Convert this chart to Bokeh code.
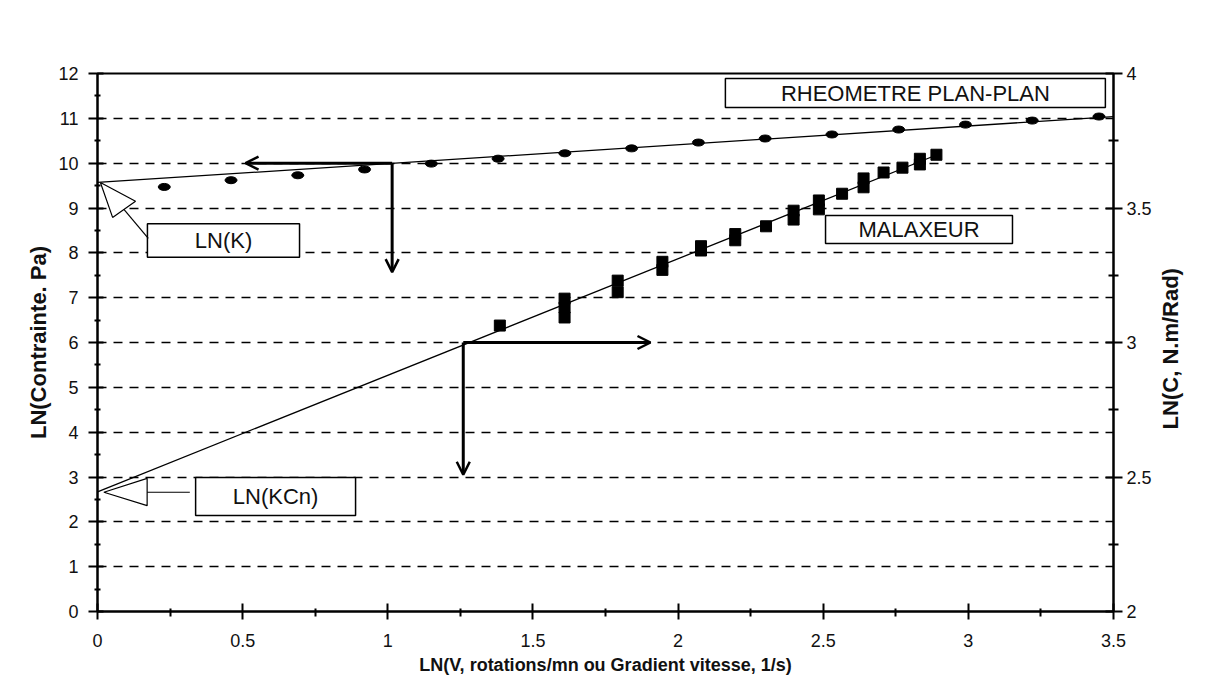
import math
from bokeh.plotting import figure
from bokeh.models import Range1d, LinearAxis, FixedTicker, Arrow, OpenHead
from bokeh.core.properties import value
from bokeh.embed import file_html
from bokeh.resources import INLINE

# ---------------- data ----------------
# RHEOMETRE PLAN-PLAN (left axis: LN(Contrainte, Pa))
x_rheo = [0.23, 0.46, 0.69, 0.92, 1.15, 1.38, 1.61, 1.84, 2.07, 2.30, 2.53, 2.76, 2.99, 3.22, 3.45]
y_rheo = [9.47, 9.62, 9.73, 9.86, 9.99, 10.10, 10.22, 10.33, 10.46, 10.55, 10.64, 10.75, 10.86, 10.95, 11.04]
x_fit_rheo = [0.0, 3.5]
y_fit_rheo = [9.57, 11.04]

# MALAXEUR (right axis: LN(C, N.m/Rad))
x_mal = [1.386, 1.609, 1.609, 1.609, 1.792, 1.792, 1.946, 1.946, 2.079, 2.079,
         2.197, 2.197, 2.303, 2.398, 2.398, 2.485, 2.485, 2.565, 2.639, 2.639,
         2.708, 2.773, 2.833, 2.833, 2.890]
c_mal = [3.063, 3.163, 3.130, 3.093, 3.230, 3.187, 3.300, 3.270, 3.358, 3.342,
         3.403, 3.380, 3.432, 3.490, 3.457, 3.528, 3.495, 3.553, 3.610, 3.577,
         3.632, 3.650, 3.683, 3.662, 3.698]
x_fit_mal = [0.0, 2.89]
c_fit_mal = [2.445, 3.697]

# ticks
x_ticks = [0, 0.5, 1, 1.5, 2, 2.5, 3, 3.5]
x_tick_labels = ["0", "0.5", "1", "1.5", "2", "2.5", "3", "3.5"]
x_minor = [0.25, 0.75, 1.25, 1.75, 2.25, 2.75, 3.25]
y_ticks = [0, 1, 2, 3, 4, 5, 6, 7, 8, 9, 10, 11, 12]
y_tick_labels = ["0", "1", "2", "3", "4", "5", "6", "7", "8", "9", "10", "11", "12"]
y_minor = [0.5, 1.5, 2.5, 3.5, 4.5, 5.5, 6.5, 7.5, 8.5, 9.5, 10.5, 11.5]
r_ticks = [2, 2.5, 3, 3.5, 4]
r_tick_labels = ["2", "2.5", "3", "3.5", "4"]
r_minor = [2.25, 2.75, 3.25, 3.75]

box_texts = ["RHEOMETRE PLAN-PLAN", "MALAXEUR", "LN(K)", "LN(KCn)"]

x_title = "LN(V, rotations/mn ou Gradient vitesse, 1/s)"
y_title = "LN(Contrainte. Pa)"
r_title = "LN(C, N.m/Rad)"

FONT = "Liberation Sans"
INK = "#111111"

# ---------------- figure ----------------
p = figure(width=1213, height=694, x_range=Range1d(0, 3.5), y_range=Range1d(0, 12),
           output_backend="svg", toolbar_location=None,
           min_border_left=97, min_border_right=100, min_border_top=73, min_border_bottom=83)
p.background_fill_color = "white"
p.border_fill_color = "white"
p.outline_line_color = "black"
p.outline_line_width = 2
p.extra_y_ranges = {"right": Range1d(2, 4)}


def style_axis(ax, tick_in, tick_out, minor_in, minor_out, standoff):
    ax.axis_line_color = "black"
    ax.axis_line_width = 2
    ax.major_tick_line_color = "black"
    ax.major_tick_line_width = 2
    ax.minor_tick_line_color = "black"
    ax.minor_tick_line_width = 2
    ax.major_tick_in = tick_in
    ax.major_tick_out = tick_out
    ax.minor_tick_in = minor_in
    ax.minor_tick_out = minor_out
    ax.major_label_standoff = standoff
    ax.major_label_text_font = FONT
    ax.major_label_text_font_size = "18px"
    ax.major_label_text_color = INK
    ax.axis_label_text_font = FONT
    ax.axis_label_text_font_style = "bold"
    ax.axis_label_text_color = INK


xa = p.xaxis[0]
xa.ticker = FixedTicker(ticks=x_ticks, minor_ticks=x_minor)
xa.major_label_overrides = dict(zip(x_ticks, x_tick_labels))
style_axis(xa, 8, 8, 3, 5, 14)
xa.axis_label = x_title
xa.axis_label_text_font_size = "18px"
xa.axis_label_standoff = 5

ya = p.yaxis[0]
ya.ticker = FixedTicker(ticks=y_ticks, minor_ticks=y_minor)
ya.major_label_overrides = dict(zip(y_ticks, y_tick_labels))
style_axis(ya, 6, 9, 3, 3, 10)
ya.axis_label = y_title
ya.axis_label_text_font_size = "22px"
ya.axis_label_standoff = 4

# visible right axis (ticks + labels)
ra = LinearAxis(y_range_name="right",
                ticker=FixedTicker(ticks=r_ticks, minor_ticks=r_minor))
ra.major_label_overrides = dict(zip(r_ticks, r_tick_labels))
style_axis(ra, 8, 9, 5, 5, 4)
p.add_layout(ra, "right")

# second, invisible right axis: its single rotated tick label is the title
title_pos = 2.677
rt = LinearAxis(y_range_name="right",
                ticker=FixedTicker(ticks=[title_pos], minor_ticks=[]))
rt.major_label_overrides = {title_pos: r_title}
rt.axis_line_color = None
rt.major_tick_line_color = None
rt.minor_tick_line_color = None
rt.major_tick_in = 0
rt.major_tick_out = 0
rt.minor_tick_in = 0
rt.minor_tick_out = 0
rt.major_label_standoff = 16
rt.major_label_orientation = math.pi / 2
rt.major_label_text_font = FONT
rt.major_label_text_font_style = "bold"
rt.major_label_text_font_size = "22px"
rt.major_label_text_color = INK
p.add_layout(rt, "right")

p.xgrid.grid_line_color = None
p.ygrid.ticker = FixedTicker(ticks=y_ticks[1:-1])
p.ygrid.grid_line_color = "black"
p.ygrid.grid_line_width = 1.5
p.ygrid.grid_line_dash = "9 7"

# ---------------- series ----------------
p.line(x_fit_rheo, y_fit_rheo, line_color="black", line_width=1.3)
p.ellipse(x=x_rheo, y=y_rheo, width=12, height=7, width_units="screen",
          height_units="screen", fill_color="black", line_color="black")

p.line(x_fit_mal, c_fit_mal, y_range_name="right", line_color="black", line_width=1.3)
p.scatter(x_mal, c_mal, y_range_name="right", marker="square", size=11,
          fill_color="black", line_color="black")

# ---------------- annotation boxes ----------------
p.quad(left=[2.163, 2.508, 0.172, 0.338], right=[3.472, 3.152, 0.696, 0.889],
       top=[11.89, 8.83, 8.65, 2.99], bottom=[11.24, 8.21, 7.90, 2.14],
       fill_color="white", line_color="black", line_width=1.5)
p.text(x=[2.8175, 2.83, 0.434, 0.6135], y=[11.565, 8.52, 8.275, 2.565], text=box_texts,
       text_font=value(FONT), text_font_size="22px", text_color=INK,
       text_align="center", text_baseline="middle")

# callout wedges
p.patch([0.01, 0.131, 0.052], [9.57, 9.15, 8.79], fill_color="white",
        line_color="black", line_width=1.2)
p.line([0.091, 0.175], [8.97, 8.32], line_color="black", line_width=1.2)
p.patch([0.022, 0.171, 0.171], [2.66, 2.97, 2.36], fill_color="white",
        line_color="black", line_width=1.2)
p.line([0.171, 0.318], [2.66, 2.66], line_color="black", line_width=1.2)

# arrows
for xs, ys, xe, ye in [(1.015, 10.0, 0.51, 10.0),
                       (1.015, 10.0, 1.015, 7.57),
                       (1.26, 6.0, 1.905, 6.0),
                       (1.26, 6.0, 1.26, 3.05)]:
    p.add_layout(Arrow(end=OpenHead(size=13, line_width=2.5, line_color="black"),
                       x_start=xs, y_start=ys, x_end=xe, y_end=ye,
                       line_width=3, line_color="black"))

open("out.html", "w").write(file_html(p, INLINE))
